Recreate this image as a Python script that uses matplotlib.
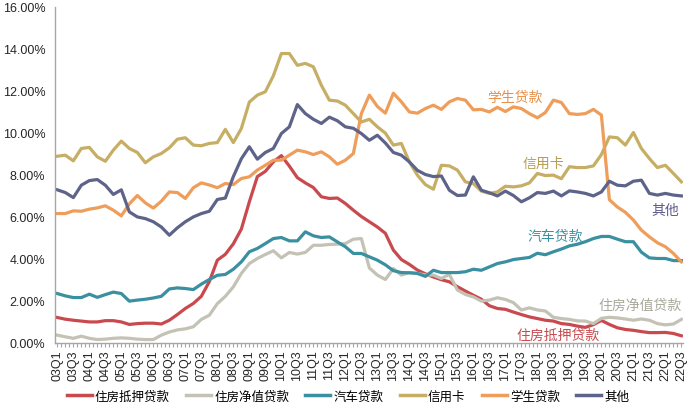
import matplotlib
matplotlib.use("Agg")
import matplotlib.pyplot as plt
from matplotlib.ticker import FuncFormatter, MultipleLocator

plt.rcParams['font.family'] = ['Liberation Sans', 'Noto Sans CJK SC', 'DejaVu Sans']

# quarters 03Q1 .. 22Q3
quarters = [f"{y:02d}Q{q}" for y in range(3, 23) for q in range(1, 5)][:79]

mortgage = [1.19, 1.11, 1.06, 1.02, 0.98, 0.98, 1.04, 1.04, 0.98, 0.86,
            0.90, 0.92, 0.92, 0.88, 1.06, 1.33, 1.62, 1.86, 2.20, 2.90,
            3.92, 4.20, 4.70, 5.40, 6.70, 7.90, 8.15, 8.60, 8.90, 8.40,
            7.85, 7.60, 7.38, 6.94, 6.86, 6.88, 6.62, 6.30, 6.00, 5.75,
            5.50, 5.20, 4.40, 3.95, 3.72, 3.45, 3.27, 3.12, 2.99, 2.89,
            2.66, 2.45, 2.25, 2.06, 1.75, 1.62, 1.58, 1.45, 1.33, 1.22,
            1.14, 1.06, 1.02, 0.90, 0.86, 0.78, 0.72, 0.85, 1.05, 0.86,
            0.70, 0.62, 0.58, 0.52, 0.47, 0.47, 0.48, 0.43, 0.32]

home_equity = [0.35, 0.27, 0.20, 0.30, 0.20, 0.14, 0.16, 0.20, 0.22, 0.20,
               0.16, 0.14, 0.14, 0.35, 0.50, 0.60, 0.65, 0.75, 1.10, 1.30,
               1.85, 2.20, 2.65, 3.29, 3.76, 4.00, 4.19, 4.37, 4.03, 4.29,
               4.21, 4.29, 4.63, 4.63, 4.67, 4.68, 4.71, 4.92, 4.95, 3.55,
               3.21, 3.00, 3.52, 3.21, 3.33, 3.29, 3.22, 3.21, 3.05, 3.24,
               2.50, 2.29, 2.17, 1.97, 2.02, 2.13, 2.05, 1.90, 1.55, 1.65,
               1.55, 1.50, 1.20, 1.14, 1.10, 1.03, 1.02, 0.90, 1.15, 1.20,
               1.17, 1.12, 1.06, 1.12, 1.06, 0.90, 0.84, 0.88, 1.10]

auto = [2.33, 2.22, 2.14, 2.14, 2.30, 2.15, 2.28, 2.40, 2.33, 1.97,
        2.02, 2.06, 2.12, 2.20, 2.55, 2.60, 2.57, 2.52, 2.78, 3.00,
        3.20, 3.24, 3.49, 3.84, 4.32, 4.48, 4.71, 4.95, 5.00, 4.84,
        4.84, 5.27, 5.08, 5.00, 5.03, 4.79, 4.56, 4.24, 4.24, 4.08,
        3.92, 3.70, 3.42, 3.33, 3.32, 3.29, 3.15, 3.44, 3.33, 3.33,
        3.33, 3.37, 3.49, 3.44, 3.60, 3.76, 3.84, 3.95, 4.00, 4.05,
        4.25, 4.18, 4.32, 4.45, 4.60, 4.68, 4.80, 4.95, 5.05, 5.05,
        4.92, 4.80, 4.80, 4.30, 4.03, 4.00, 4.00, 3.90, 3.90]

credit_card = [8.87, 8.92, 8.65, 9.24, 9.29, 8.84, 8.63, 9.16, 9.59, 9.24,
               9.05, 8.56, 8.84, 9.00, 9.27, 9.68, 9.75, 9.40, 9.37, 9.48,
               9.52, 10.15, 9.52, 10.19, 11.45, 11.78, 11.94, 12.70, 13.76, 13.76,
               13.20, 13.29, 13.13, 12.25, 11.54, 11.50, 11.30, 10.90, 10.50, 10.63,
               10.27, 9.97, 9.40, 9.48, 8.60, 7.97, 7.52, 7.30, 8.44, 8.41,
               8.21, 7.65, 7.57, 7.21, 7.10, 7.17, 7.44, 7.41, 7.46, 7.60,
               8.05, 7.95, 7.97, 7.80, 8.37, 8.33, 8.33, 8.41, 8.95, 9.79,
               9.75, 9.40, 10.00, 9.24, 8.76, 8.33, 8.44, 8.05, 7.65]

student = [6.14, 6.14, 6.27, 6.25, 6.35, 6.41, 6.51, 6.30, 6.03, 6.60,
           7.00, 6.65, 6.40, 6.73, 7.17, 7.14, 6.86, 7.37, 7.60, 7.50,
           7.37, 7.57, 7.52, 7.81, 7.89, 8.21, 8.44, 8.68, 8.68, 8.92,
           9.16, 9.08, 8.95, 9.08, 8.84, 8.49, 8.68, 9.00, 10.90, 11.78,
           11.24, 10.92, 11.87, 11.46, 10.98, 10.92, 11.14, 11.30, 11.10, 11.46,
           11.62, 11.54, 11.08, 11.10, 10.98, 11.20, 11.00, 11.22, 11.14, 10.90,
           10.70, 10.95, 11.54, 11.43, 10.90, 10.86, 10.90, 11.10, 10.83, 6.80,
           6.45, 6.20, 5.83, 5.35, 5.03, 4.75, 4.56, 4.24, 3.84]

other = [7.27, 7.14, 6.90, 7.49, 7.71, 7.76, 7.49, 7.05, 7.27, 6.22,
         5.98, 5.90, 5.75, 5.50, 5.11, 5.46, 5.75, 5.98, 6.14, 6.25,
         6.81, 6.88, 7.90, 8.75, 9.32, 8.73, 9.05, 9.24, 9.95, 10.27,
         11.33, 10.90, 10.63, 10.43, 10.73, 10.56, 10.27, 10.20, 9.95, 9.63,
         9.87, 9.50, 9.05, 8.92, 8.60, 8.20, 8.00, 7.90, 7.93, 7.25,
         7.00, 7.02, 7.89, 7.25, 7.13, 6.98, 7.21, 7.00, 6.70, 6.89,
         7.14, 7.10, 7.21, 6.98, 7.22, 7.17, 7.10, 6.98, 7.17, 7.68,
         7.49, 7.46, 7.68, 7.73, 7.10, 7.02, 7.10, 7.02, 6.98]

series_names = ['住房抵押贷款', '住房净值贷款', '汽车贷款', '信用卡', '学生贷款', '其他']
series_data = [mortgage, home_equity, auto, credit_card, student, other]
colors = ['#C94A4E', '#C3C2B5', '#3A8FA0', '#C6AE64', '#EE9D5A', '#5D6389']
text_colors = ['#C94A4E', '#A9A89C', '#3A8FA0', '#B59E55', '#E8904A', '#5D5A8A']

fig = plt.figure(figsize=(7.0, 4.1), dpi=100)
ax = fig.add_axes([55/700, 66.5/410, 628/700, 336/410])

x = list(range(len(quarters)))
for name, data, c in zip(series_names, series_data, colors):
    ax.plot(x, data, color=c, lw=2.3, label=name, solid_joinstyle='round')

ax.set_xlim(-0.29, 78.2)
ax.set_ylim(0, 16)
ax.yaxis.set_major_locator(MultipleLocator(2))
ax.yaxis.set_major_formatter(FuncFormatter(lambda v, p: f"{v:.2f}%"))
ax.set_xticks(x[::2])
ax.set_xticklabels(quarters[::2], rotation=90)
ax.xaxis.set_minor_locator(MultipleLocator(0.5))

for s in ['top', 'right']:
    ax.spines[s].set_visible(False)
for s in ['left', 'bottom']:
    ax.spines[s].set_color('#A6A6A6')
    ax.spines[s].set_linewidth(1.0)

ax.tick_params(axis='y', length=0, pad=7, labelsize=9, labelcolor='#262626')
ax.tick_params(axis='x', which='both', length=3, color='#A6A6A6', width=0.8,
               labelsize=9, labelcolor='#262626', pad=2)

# in-plot labels
cjk = ['Noto Sans CJK SC', 'DejaVu Sans']
ann = [('学生贷款', 57.2, 11.67, 4), ('信用卡', 60.8, 8.57, 3), ('其他', 75.95, 6.33, 5),
       ('汽车贷款', 62.2, 5.05, 2), ('住房净值贷款', 72.8, 1.81, 1), ('住房抵押贷款', 62.6, 0.38, 0)]
for t, xi, yv, k in ann:
    ax.text(xi, yv, t, color=text_colors[k], fontsize=10, ha='center', va='center', family=cjk)

leg = fig.legend(loc='center', bbox_to_anchor=(0.497, 0.032), ncol=6, frameon=False,
                 handlelength=2.0, handletextpad=0.25, columnspacing=1.3,
                 prop={'family': cjk, 'size': 9})
for line in leg.get_lines():
    line.set_linewidth(2.5)

fig.savefig('out.png', dpi=100)
